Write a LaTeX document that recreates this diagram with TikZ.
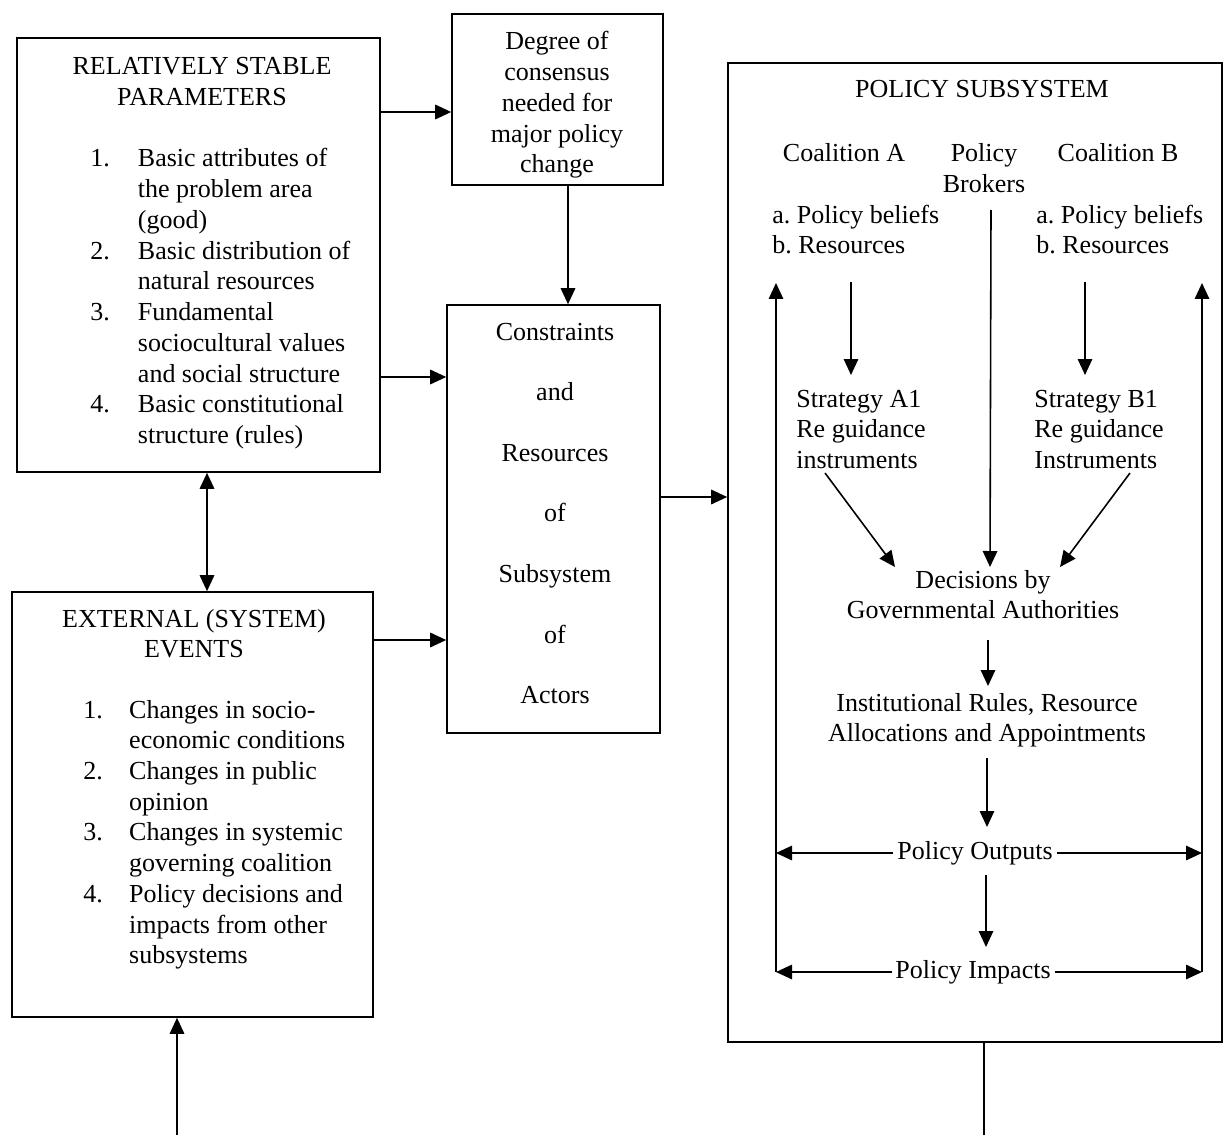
\documentclass[tikz,border=0pt]{standalone}
\usepackage{fontspec}
\setmainfont{Liberation Serif}
\usetikzlibrary{arrows.meta,fit}
\frenchspacing

\tikzset{
  box/.style={draw, line width=0.9pt, inner sep=0pt},
  txt/.style={inner sep=0pt, font=\fontsize{14.8}{17.5}\selectfont},
  lbl/.style={txt, inner xsep=2pt},
  arr/.style={line width=0.9pt, -{Triangle[length=3.2mm,width=2.9mm]}},
  biarr/.style={line width=0.9pt, {Triangle[length=3.2mm,width=2.9mm]}-{Triangle[length=3.2mm,width=2.9mm]}},
  plain/.style={line width=0.9pt}
}

\begin{document}
\begin{tikzpicture}[x=0.02cm,y=-0.02cm]
  \useasboundingbox (0,0) rectangle (1223,1135);

  % Boxes
  \node[box, fit={(17,38) (380,472)}] (rsp) {};
  \node[box, fit={(452,14) (663,185)}] (deg) {};
  \node[box, fit={(447,305) (660,733)}] (cons) {};
  \node[box, fit={(12,592) (373,1017)}] (ext) {};
  \node[box, fit={(728,63) (1222,1042)}] (sub) {};

  % Relatively stable parameters
  \node[txt, anchor=base] (rsptitle) at (202,75)
    {\begin{tabular}[t]{@{}c@{}}RELATIVELY STABLE\\PARAMETERS\end{tabular}};
  \node[txt, anchor=base west] (rsplist) at (90,167)
    {\begin{tabular}[t]{@{}l@{\hspace{16pt}}l@{}}
      1. & Basic attributes of\\
         & the problem area\\
         & (good)\\
      2. & Basic distribution of\\
         & natural resources\\
      3. & Fundamental\\
         & sociocultural values\\
         & and social structure\\
      4. & Basic constitutional\\
         & structure (rules)
    \end{tabular}};

  % External events
  \node[txt, anchor=base] (exttitle) at (194,627)
    {\begin{tabular}[t]{@{}c@{}}EXTERNAL (SYSTEM)\\EVENTS\end{tabular}};
  \node[txt, anchor=base west] (extlist) at (83,718)
    {\begin{tabular}[t]{@{}l@{\hspace{15pt}}l@{}}
      1. & Changes in socio-\\
         & economic conditions\\
      2. & Changes in public\\
         & opinion\\
      3. & Changes in systemic\\
         & governing coalition\\
      4. & Policy decisions and\\
         & impacts from other\\
         & subsystems
    \end{tabular}};

  % Middle column
  \node[txt, anchor=base] (degtext) at (557,50)
    {\begin{tabular}[t]{@{}c@{}}Degree of\\consensus\\needed for\\major policy\\change\end{tabular}};
  \node[txt, anchor=base] (constext) at (555,340)
    {\begin{tabular}[t]{@{}c@{}}Constraints\\[17pt]and\\[17pt]Resources\\[17pt]of\\[17pt]Subsystem\\[17pt]of\\[17pt]Actors\end{tabular}};

  % Policy subsystem
  \node[txt, anchor=base] (subtitle) at (982,98) {POLICY SUBSYSTEM};
  \node[txt, anchor=base] (coalA) at (844,162) {Coalition A};
  \node[txt, anchor=base] (brokers) at (984,162)
    {\begin{tabular}[t]{@{}c@{}}Policy\\Brokers\end{tabular}};
  \node[txt, anchor=base] (coalB) at (1118,162) {Coalition B};
  \node[txt, anchor=base west] (beliefsA) at (772,223)
    {\begin{tabular}[t]{@{}l@{}}a. Policy beliefs\\b. Resources\end{tabular}};
  \node[txt, anchor=base west] (beliefsB) at (1036,223)
    {\begin{tabular}[t]{@{}l@{}}a. Policy beliefs\\b. Resources\end{tabular}};
  \node[txt, anchor=base west] (stratA) at (796,407)
    {\begin{tabular}[t]{@{}l@{}}Strategy A1\\Re guidance\\instruments\end{tabular}};
  \node[txt, anchor=base west] (stratB) at (1034,407)
    {\begin{tabular}[t]{@{}l@{}}Strategy B1\\Re guidance\\Instruments\end{tabular}};
  \node[txt, anchor=base] (decide) at (983,588)
    {\begin{tabular}[t]{@{}c@{}}Decisions by\\Governmental Authorities\end{tabular}};
  \node[txt, anchor=base] (rules) at (987,711)
    {\begin{tabular}[t]{@{}c@{}}Institutional Rules, Resource\\Allocations and Appointments\end{tabular}};
  \node[lbl] (out) at (975,853) {Policy Outputs};
  \node[lbl] (imp) at (973,972) {Policy Impacts};

  % Arrow ends
  \coordinate (y1) at (0,112);
  \coordinate (y2) at (0,377);
  \coordinate (y3) at (0,640);
  \coordinate (y4) at (0,497);
  \coordinate (x1) at (568,0);
  \coordinate (x2) at (207,0);
  \coordinate (feedin) at (177,1135);
  \coordinate (feedout) at (984,1135);

  \draw[arr] (rsp.east |- y1) -- (deg.west |- y1);
  \draw[arr] (deg.south -| x1) -- (cons.north -| x1);
  \draw[arr] (rsp.east |- y2) -- (cons.west |- y2);
  \draw[arr] (ext.east |- y3) -- (cons.west |- y3);
  \draw[biarr] (rsp.south -| x2) -- (ext.north -| x2);
  \draw[arr] (cons.east |- y4) -- (sub.west |- y4);
  \draw[arr] (feedin) -- (ext.south -| feedin);
  \draw[plain] (sub.south -| feedout) -- (feedout);

  % Inside the subsystem
  \coordinate (lt) at (776,283);
  \coordinate (rt) at (1202,283);
  \coordinate (aTop) at (851,282);
  \coordinate (aEnd) at (851,375);
  \coordinate (bTop) at (1085,282);
  \coordinate (bEnd) at (1085,375);
  \coordinate (brTop) at (991,210);
  \coordinate (brEnd) at (990,567);
  \coordinate (saTop) at (825,473);
  \coordinate (saEnd) at (895,567);
  \coordinate (sbTop) at (1130,473);
  \coordinate (sbEnd) at (1060,567);
  \coordinate (dTop) at (988,640);
  \coordinate (dEnd) at (988,686);
  \coordinate (rTop) at (987,758);
  \coordinate (rEnd) at (987,827);
  \coordinate (oTop) at (986,875);
  \coordinate (oEnd) at (986,947);

  \draw[arr] (aTop) -- (aEnd);
  \draw[arr] (bTop) -- (bEnd);
  \draw[arr] (brTop) -- (brEnd);
  \draw[arr] (saTop) -- (saEnd);
  \draw[arr] (sbTop) -- (sbEnd);
  \draw[arr] (dTop) -- (dEnd);
  \draw[arr] (rTop) -- (rEnd);
  \draw[arr] (oTop) -- (oEnd);

  \draw[arr] (imp.west -| lt) -- (lt);
  \draw[arr] (imp.east -| rt) -- (rt);
  \draw[arr] (out.west) -- (out.west -| lt);
  \draw[arr] (out.east) -- (out.east -| rt);
  \draw[arr] (imp.west) -- (imp.west -| lt);
  \draw[arr] (imp.east) -- (imp.east -| rt);
\end{tikzpicture}
\end{document}
